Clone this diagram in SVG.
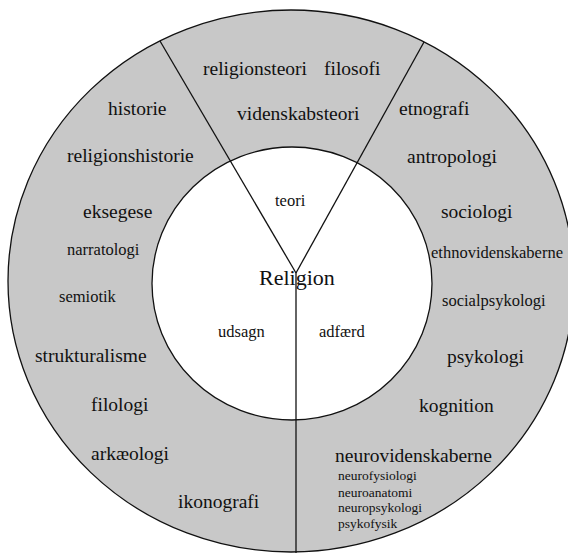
<svg xmlns="http://www.w3.org/2000/svg" width="568" height="553" viewBox="0 0 568 553">
<style>
text { font-family: "Liberation Serif", "Times New Roman", serif; fill: #111; }
.l { font-size: 19.5px; }
.m { font-size: 16.5px; }
.s { font-size: 13.5px; }
.big { font-size: 22px; }
.edge { stroke: #111; stroke-width: 1.3; }
</style>
<rect width="568" height="553" fill="#ffffff"/>
<g id="ring">
<ellipse cx="291" cy="281" rx="283" ry="271" fill="#c8c8c8" class="edge"/>
</g>
<g id="center">
<ellipse cx="292" cy="283.5" rx="140" ry="136.5" fill="#ffffff" class="edge"/>
</g>
<g id="connectors" fill="none" class="edge">
<line x1="160" y1="41" x2="296" y2="273"/>
<line x1="424" y1="42" x2="296" y2="273"/>
<line x1="296" y1="273" x2="296" y2="556"/>
</g>
<g id="religion">
<text class="big" x="259" y="285">Religion</text>
</g>
<g id="teori">
<text class="m" x="275" y="206">teori</text>
</g>
<g id="udsagn">
<text class="m" x="218" y="337">udsagn</text>
</g>
<g id="adfaerd">
<text class="m" x="319" y="337">adfærd</text>
</g>
<g id="sector-teori">
<text class="l" x="203" y="75">religionsteori</text>
<text class="l" x="324" y="75">filosofi</text>
<text class="l" x="237" y="120">videnskabsteori</text>
</g>
<g id="sector-udsagn">
<text class="l" x="108" y="115">historie</text>
<text class="l" x="67" y="162">religionshistorie</text>
<text class="l" x="83" y="218">eksegese</text>
<text class="m" x="67" y="255">narratologi</text>
<text class="m" x="59" y="302">semiotik</text>
<text class="l" x="35" y="362">strukturalisme</text>
<text class="l" x="91" y="411">filologi</text>
<text class="l" x="91" y="460">arkæologi</text>
<text class="l" x="178" y="508">ikonografi</text>
</g>
<g id="sector-adfaerd">
<text class="l" x="399" y="115">etnografi</text>
<text class="l" x="407" y="163">antropologi</text>
<text class="l" x="441" y="218">sociologi</text>
<text class="m" x="431" y="258">ethnovidenskaberne</text>
<text class="m" x="442" y="306">socialpsykologi</text>
<text class="l" x="447" y="363">psykologi</text>
<text class="l" x="419" y="412">kognition</text>
<text class="l" x="335" y="462">neurovidenskaberne</text>
<text class="s" x="338" y="480">neurofysiologi</text>
<text class="s" x="338" y="497">neuroanatomi</text>
<text class="s" x="338" y="512">neuropsykologi</text>
<text class="s" x="338" y="528">psykofysik</text>
</g>
</svg>
